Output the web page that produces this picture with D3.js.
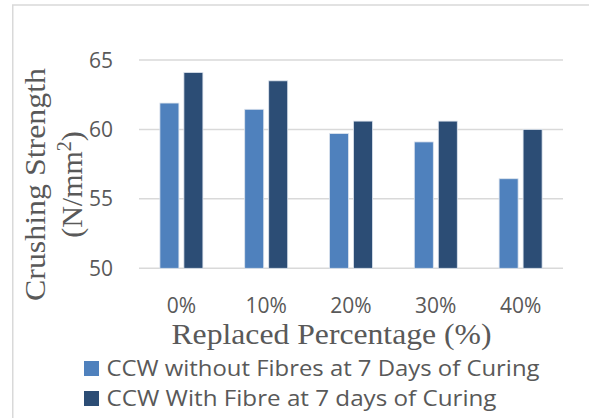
<!DOCTYPE html>
<html>
<head>
<meta charset="utf-8">
<script src="https://cdn.jsdelivr.net/npm/d3@7"></script>
<style>
  html, body { margin: 0; padding: 0; background: #fff; }
  svg { display: block; }
</style>
</head>
<body>
<svg id="chart" width="589" height="418"></svg>
<script>
// Replacement levels and crushing strengths (N/mm²) at 7 days of curing
const categories = ["0%", "10%", "20%", "30%", "40%"];
const seriesNames = [
  "CCW without Fibres at 7 Days of Curing",
  "CCW With Fibre at 7 days of Curing"
];
const withoutFibres = [61.9, 61.45, 59.7, 59.1, 56.45];
const withFibre = [64.1, 63.5, 60.6, 60.6, 60.0];
const yTicks = [50, 55, 60, 65];

const colors = ["#4F81BD", "#2C4D75"];
const textColor = "#595959";
const gridColor = "#d9d9d9";
const sansFont = "'Open Sans', 'Noto Sans', sans-serif";
const serifFont = "'Liberation Serif', 'DejaVu Serif', serif";

const svg = d3.select("#chart");

// outer frame (top and left edges)
svg.append("path")
  .attr("d", "M12.75,418 V5 H589")
  .attr("fill", "none")
  .attr("stroke", gridColor)
  .attr("stroke-width", 1.5);

const plot = { left: 139, right: 563, top: 60, bottom: 268.3 };

const x0 = d3.scaleBand()
  .domain(categories)
  .range([plot.left, plot.right])
  .paddingInner(0.493)
  .paddingOuter(0.2465);

const x1 = d3.scaleBand()
  .domain(seriesNames)
  .range([0, x0.bandwidth()])
  .paddingInner(0.208)
  .paddingOuter(0);

const y = d3.scaleLinear()
  .domain([50, 65])
  .range([plot.bottom, plot.top]);

// horizontal gridlines
svg.append("g")
  .selectAll("line")
  .data(yTicks)
  .join("line")
  .attr("x1", plot.left)
  .attr("x2", plot.right)
  .attr("y1", d => y(d))
  .attr("y2", d => y(d))
  .attr("stroke", gridColor)
  .attr("stroke-width", 1.5);

// y tick labels
svg.append("g")
  .selectAll("text")
  .data(yTicks)
  .join("text")
  .attr("x", 113)
  .attr("y", d => y(d))
  .attr("dy", "0.36em")
  .attr("text-anchor", "end")
  .attr("font-family", sansFont)
  .attr("font-size", 21)
  .attr("fill", textColor)
  .text(d => d);

// bars
const rows = categories.map((c, i) => ({
  cat: c,
  values: [
    { key: seriesNames[0], value: withoutFibres[i], color: colors[0] },
    { key: seriesNames[1], value: withFibre[i], color: colors[1] }
  ]
}));

svg.append("g")
  .selectAll("g")
  .data(rows)
  .join("g")
  .attr("transform", d => `translate(${x0(d.cat)},0)`)
  .selectAll("rect")
  .data(d => d.values)
  .join("rect")
  .attr("x", d => x1(d.key))
  .attr("width", x1.bandwidth())
  .attr("y", d => y(d.value))
  .attr("height", d => y(50) - y(d.value))
  .attr("fill", d => d.color)
  .attr("stroke", "#dde4ee")
  .attr("stroke-width", 0.8);

// x category labels
svg.append("g")
  .selectAll("text")
  .data(categories)
  .join("text")
  .attr("x", d => x0(d) + x0.bandwidth() / 2)
  .attr("y", 313)
  .attr("text-anchor", "middle")
  .attr("font-family", sansFont)
  .attr("font-size", 21)
  .attr("fill", textColor)
  .text(d => d);

// x axis title
svg.append("text")
  .attr("x", 171.5)
  .attr("y", 343.5)
  .attr("font-family", serifFont)
  .attr("font-size", 30)
  .attr("textLength", 320)
  .attr("lengthAdjust", "spacingAndGlyphs")
  .attr("fill", textColor)
  .text("Replaced Percentage (%)");

// y axis title (two lines)
const yTitle = svg.append("text")
  .attr("transform", "translate(0,184.5) rotate(-90)")
  .attr("text-anchor", "middle")
  .attr("font-family", serifFont)
  .attr("font-size", 30)
  .attr("fill", textColor);

yTitle.append("tspan")
  .attr("x", 0)
  .attr("y", 45)
  .attr("textLength", 233)
  .attr("lengthAdjust", "spacingAndGlyphs")
  .text("Crushing Strength");

const line2 = yTitle.append("tspan")
  .attr("x", 0)
  .attr("y", 82);
line2.append("tspan").text("(N/mm");
line2.append("tspan").attr("dy", -11).attr("font-size", 20).text("2");
line2.append("tspan").attr("dy", 11).text(")");

// legend
const legendWidths = [433, 390];
const legend = svg.append("g")
  .selectAll("g")
  .data(seriesNames)
  .join("g")
  .attr("transform", (d, i) => `translate(84,${361 + i * 30})`);

legend.append("rect")
  .attr("width", 15)
  .attr("height", 15)
  .attr("fill", (d, i) => colors[i]);

legend.append("text")
  .attr("x", 22.5)
  .attr("y", 15)
  .attr("font-family", sansFont)
  .attr("font-size", 22)
  .attr("textLength", (d, i) => legendWidths[i])
  .attr("lengthAdjust", "spacingAndGlyphs")
  .attr("fill", textColor)
  .text(d => d);
</script>
</body>
</html>
